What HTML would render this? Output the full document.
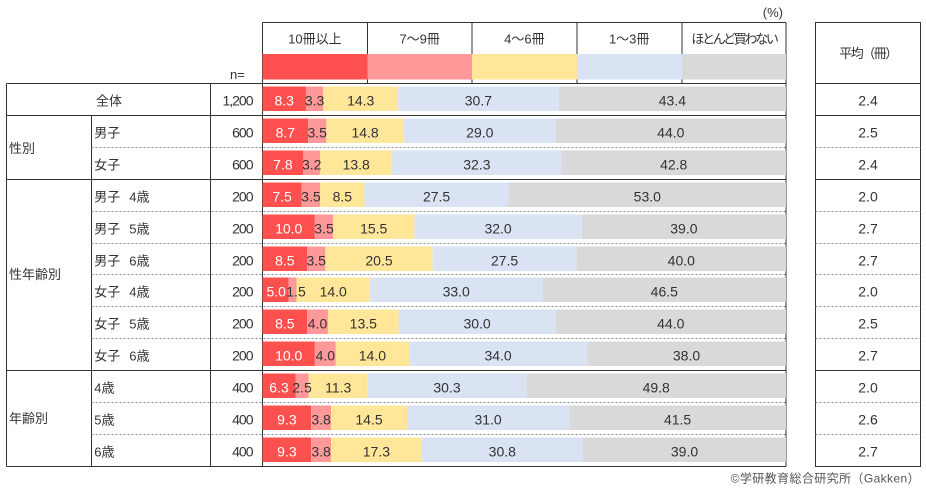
<!DOCTYPE html>
<html><head><meta charset="utf-8"><style>
html,body{margin:0;padding:0;background:#fff;}
svg{display:block;}
.j{font-family:"Liberation Sans","Noto Sans CJK JP",sans-serif;font-size:13px;fill:#333;}
.n{font-family:"Liberation Sans",sans-serif;font-size:14px;fill:#333;text-anchor:middle;}
.w{fill:#fff;}
.nn{font-family:"Liberation Sans",sans-serif;font-size:14px;fill:#333;text-anchor:end;letter-spacing:-1px;}
</style></head><body>
<svg width="926" height="490" viewBox="0 0 926 490" xmlns="http://www.w3.org/2000/svg">
<rect width="926" height="490" fill="#fff"/>
<g stroke="#333" stroke-width="1" fill="none">
<line x1="262.5" y1="22.5" x2="786" y2="22.5"/>
<line x1="262.5" y1="22.5" x2="262.5" y2="466.5"/>
<line x1="786" y1="22.5" x2="786" y2="466.5"/>
<line x1="367.5" y1="22.5" x2="367.5" y2="83.5"/>
<line x1="472" y1="22.5" x2="472" y2="83.5"/>
<line x1="577" y1="22.5" x2="577" y2="83.5"/>
<line x1="682" y1="22.5" x2="682" y2="83.5"/>
<line x1="6.5" y1="83.5" x2="6.5" y2="466.5"/>
<line x1="91.5" y1="115.5" x2="91.5" y2="466.5"/>
<line x1="210.5" y1="83.5" x2="210.5" y2="466.5"/>
<line x1="6.5" y1="83.5" x2="786" y2="83.5"/>
<line x1="6.5" y1="115.5" x2="786" y2="115.5"/>
<line x1="6.5" y1="179.5" x2="786" y2="179.5"/>
<line x1="6.5" y1="370.5" x2="786" y2="370.5"/>
<line x1="6.5" y1="466.5" x2="786" y2="466.5"/>
<rect x="815.5" y="22.5" width="105" height="444"/>
<line x1="815.5" y1="83.5" x2="920.5" y2="83.5"/>
<line x1="815.5" y1="115.5" x2="920.5" y2="115.5"/>
<line x1="815.5" y1="179.5" x2="920.5" y2="179.5"/>
<line x1="815.5" y1="370.5" x2="920.5" y2="370.5"/>
</g>
<g stroke="#888" stroke-width="1" stroke-dasharray="2,2" fill="none">
<path d="M91.5 147.5H786M91.5 211.5H786M91.5 243.5H786M91.5 274.5H786M91.5 306.5H786M91.5 338.5H786M91.5 402.5H786M91.5 434.5H786"/>
<path d="M815.5 147.5H920.5M815.5 211.5H920.5M815.5 243.5H920.5M815.5 274.5H920.5M815.5 306.5H920.5M815.5 338.5H920.5M815.5 402.5H920.5M815.5 434.5H920.5"/>
</g>
<!-- header swatches -->
<rect x="262.5" y="54" width="105" height="25.5" fill="#FF5050"/>
<rect x="367.5" y="54" width="104.5" height="25.5" fill="#FF9999"/>
<rect x="472" y="54" width="105" height="25.5" fill="#FFE699"/>
<rect x="577" y="54" width="105" height="25.5" fill="#DAE3F3"/>
<rect x="682" y="54" width="104" height="25.5" fill="#D9D9D9"/>
<text class="j" x="314.9" y="43.5" text-anchor="middle">10冊以上</text>
<text class="j" x="419.7" y="43.5" text-anchor="middle">7～9冊</text>
<text class="j" x="524.4" y="43.5" text-anchor="middle">4～6冊</text>
<text class="j" x="629.2" y="43.5" text-anchor="middle">1～3冊</text>
<text class="j" x="734" y="43.5" text-anchor="middle" style="letter-spacing:-2.3px">ほとんど買わない</text>
<text class="j" x="783" y="17" text-anchor="end">(%)</text>
<text class="j" x="868" y="58" text-anchor="middle" style="letter-spacing:-1.5px">平均（冊）</text>
<text class="j" x="230" y="79">n=</text>
<!-- bars -->
<g>
<rect x="262.5" y="86.5" width="43.45" height="24.5" fill="#FF5050"/><rect x="305.95" y="86.5" width="17.28" height="24.5" fill="#FF9999"/><rect x="323.23" y="86.5" width="74.86" height="24.5" fill="#FFE699"/><rect x="398.09" y="86.5" width="160.71" height="24.5" fill="#DAE3F3"/><rect x="558.8" y="86.5" width="227.2" height="24.5" fill="#D9D9D9"/>
<rect x="262.5" y="118.5" width="45.54" height="24.5" fill="#FF5050"/><rect x="308.04" y="118.5" width="18.32" height="24.5" fill="#FF9999"/><rect x="326.36" y="118.5" width="77.48" height="24.5" fill="#FFE699"/><rect x="403.84" y="118.5" width="151.82" height="24.5" fill="#DAE3F3"/><rect x="555.66" y="118.5" width="230.34" height="24.5" fill="#D9D9D9"/>
<rect x="262.5" y="150.5" width="40.83" height="24.5" fill="#FF5050"/><rect x="303.33" y="150.5" width="16.75" height="24.5" fill="#FF9999"/><rect x="320.08" y="150.5" width="72.24" height="24.5" fill="#FFE699"/><rect x="392.32" y="150.5" width="169.09" height="24.5" fill="#DAE3F3"/><rect x="561.41" y="150.5" width="224.59" height="24.5" fill="#D9D9D9"/>
<rect x="262.5" y="182.5" width="39.26" height="24.5" fill="#FF5050"/><rect x="301.76" y="182.5" width="18.32" height="24.5" fill="#FF9999"/><rect x="320.08" y="182.5" width="44.5" height="24.5" fill="#FFE699"/><rect x="364.58" y="182.5" width="143.96" height="24.5" fill="#DAE3F3"/><rect x="508.54" y="182.5" width="277.46" height="24.5" fill="#D9D9D9"/>
<rect x="262.5" y="214.5" width="52.35" height="24.5" fill="#FF5050"/><rect x="314.85" y="214.5" width="18.32" height="24.5" fill="#FF9999"/><rect x="333.17" y="214.5" width="81.14" height="24.5" fill="#FFE699"/><rect x="414.31" y="214.5" width="167.52" height="24.5" fill="#DAE3F3"/><rect x="581.83" y="214.5" width="204.17" height="24.5" fill="#D9D9D9"/>
<rect x="262.5" y="246.5" width="44.5" height="24.5" fill="#FF5050"/><rect x="307" y="246.5" width="18.32" height="24.5" fill="#FF9999"/><rect x="325.32" y="246.5" width="107.32" height="24.5" fill="#FFE699"/><rect x="432.64" y="246.5" width="143.96" height="24.5" fill="#DAE3F3"/><rect x="576.6" y="246.5" width="209.4" height="24.5" fill="#D9D9D9"/>
<rect x="262.5" y="277.5" width="26.18" height="24.5" fill="#FF5050"/><rect x="288.68" y="277.5" width="7.85" height="24.5" fill="#FF9999"/><rect x="296.53" y="277.5" width="73.29" height="24.5" fill="#FFE699"/><rect x="369.82" y="277.5" width="172.76" height="24.5" fill="#DAE3F3"/><rect x="542.58" y="277.5" width="243.42" height="24.5" fill="#D9D9D9"/>
<rect x="262.5" y="309.5" width="44.5" height="24.5" fill="#FF5050"/><rect x="307" y="309.5" width="20.94" height="24.5" fill="#FF9999"/><rect x="327.94" y="309.5" width="70.67" height="24.5" fill="#FFE699"/><rect x="398.61" y="309.5" width="157.05" height="24.5" fill="#DAE3F3"/><rect x="555.66" y="309.5" width="230.34" height="24.5" fill="#D9D9D9"/>
<rect x="262.5" y="341.5" width="52.35" height="24.5" fill="#FF5050"/><rect x="314.85" y="341.5" width="20.94" height="24.5" fill="#FF9999"/><rect x="335.79" y="341.5" width="73.29" height="24.5" fill="#FFE699"/><rect x="409.08" y="341.5" width="177.99" height="24.5" fill="#DAE3F3"/><rect x="587.07" y="341.5" width="198.93" height="24.5" fill="#D9D9D9"/>
<rect x="262.5" y="373.5" width="32.98" height="24.5" fill="#FF5050"/><rect x="295.48" y="373.5" width="13.09" height="24.5" fill="#FF9999"/><rect x="308.57" y="373.5" width="59.16" height="24.5" fill="#FFE699"/><rect x="367.73" y="373.5" width="158.62" height="24.5" fill="#DAE3F3"/><rect x="526.35" y="373.5" width="259.65" height="24.5" fill="#D9D9D9"/>
<rect x="262.5" y="405.5" width="48.69" height="24.5" fill="#FF5050"/><rect x="311.19" y="405.5" width="19.89" height="24.5" fill="#FF9999"/><rect x="331.08" y="405.5" width="75.91" height="24.5" fill="#FFE699"/><rect x="406.99" y="405.5" width="162.29" height="24.5" fill="#DAE3F3"/><rect x="569.28" y="405.5" width="216.72" height="24.5" fill="#D9D9D9"/>
<rect x="262.5" y="437.5" width="48.69" height="24.5" fill="#FF5050"/><rect x="311.19" y="437.5" width="19.89" height="24.5" fill="#FF9999"/><rect x="331.08" y="437.5" width="90.57" height="24.5" fill="#FFE699"/><rect x="421.65" y="437.5" width="161.24" height="24.5" fill="#DAE3F3"/><rect x="582.89" y="437.5" width="203.11" height="24.5" fill="#D9D9D9"/>
</g>
<!-- bar labels -->
<g>
<text class="n w" x="284.2" y="105.3">8.3</text><text class="n" x="314.6" y="105.3">3.3</text><text class="n" x="360.7" y="105.3">14.3</text><text class="n" x="478.4" y="105.3">30.7</text><text class="n" x="672.4" y="105.3">43.4</text>
<text class="n w" x="285.3" y="137.3">8.7</text><text class="n" x="317.2" y="137.3">3.5</text><text class="n" x="365.1" y="137.3">14.8</text><text class="n" x="479.8" y="137.3">29.0</text><text class="n" x="670.8" y="137.3">44.0</text>
<text class="n w" x="282.9" y="169.3">7.8</text><text class="n" x="311.7" y="169.3">3.2</text><text class="n" x="356.2" y="169.3">13.8</text><text class="n" x="476.9" y="169.3">32.3</text><text class="n" x="673.7" y="169.3">42.8</text>
<text class="n w" x="282.1" y="201.3">7.5</text><text class="n" x="310.9" y="201.3">3.5</text><text class="n" x="342.3" y="201.3">8.5</text><text class="n" x="436.6" y="201.3">27.5</text><text class="n" x="647.3" y="201.3">53.0</text>
<text class="n w" x="288.7" y="233.3">10.0</text><text class="n" x="324" y="233.3">3.5</text><text class="n" x="373.7" y="233.3">15.5</text><text class="n" x="498.1" y="233.3">32.0</text><text class="n" x="683.9" y="233.3">39.0</text>
<text class="n w" x="284.8" y="265.3">8.5</text><text class="n" x="316.2" y="265.3">3.5</text><text class="n" x="379" y="265.3">20.5</text><text class="n" x="504.6" y="265.3">27.5</text><text class="n" x="681.3" y="265.3">40.0</text>
<text class="n w" x="276.2" y="296.3">5.0</text><text class="n" x="296" y="296.3">1.5</text><text class="n" x="333.2" y="296.3">14.0</text><text class="n" x="456.2" y="296.3">33.0</text><text class="n" x="664.3" y="296.3">46.5</text>
<text class="n w" x="284.8" y="328.3">8.5</text><text class="n" x="317.5" y="328.3">4.0</text><text class="n" x="363.3" y="328.3">13.5</text><text class="n" x="477.1" y="328.3">30.0</text><text class="n" x="670.8" y="328.3">44.0</text>
<text class="n w" x="288.7" y="360.3">10.0</text><text class="n" x="325.3" y="360.3">4.0</text><text class="n" x="372.4" y="360.3">14.0</text><text class="n" x="498.1" y="360.3">34.0</text><text class="n" x="686.5" y="360.3">38.0</text>
<text class="n w" x="279" y="392.3">6.3</text><text class="n" x="302" y="392.3">2.5</text><text class="n" x="338.2" y="392.3">11.3</text><text class="n" x="447" y="392.3">30.3</text><text class="n" x="656.2" y="392.3">49.8</text>
<text class="n w" x="286.9" y="424.3">9.3</text><text class="n" x="321.1" y="424.3">3.8</text><text class="n" x="369" y="424.3">14.5</text><text class="n" x="488.1" y="424.3">31.0</text><text class="n" x="677.6" y="424.3">41.5</text>
<text class="n w" x="286.9" y="456.3">9.3</text><text class="n" x="321.1" y="456.3">3.8</text><text class="n" x="376.4" y="456.3">17.3</text><text class="n" x="502.3" y="456.3">30.8</text><text class="n" x="684.5" y="456.3">39.0</text>
</g>
<!-- left labels -->
<text class="j" x="109" y="105.3" text-anchor="middle">全体</text>
<text class="j" x="9" y="153">性別</text>
<text class="j" x="9" y="279">性年齢別</text>
<text class="j" x="9" y="423">年齢別</text>
<text class="j" x="94.3" y="137.3">男子</text>
<text class="j" x="94.3" y="169.3">女子</text>
<text class="j" x="94.3" y="201.3">男子</text><text class="j" x="129.3" y="201.3">4歳</text>
<text class="j" x="94.3" y="233.3">男子</text><text class="j" x="129.3" y="233.3">5歳</text>
<text class="j" x="94.3" y="265.3">男子</text><text class="j" x="129.3" y="265.3">6歳</text>
<text class="j" x="94.3" y="296.3">女子</text><text class="j" x="129.3" y="296.3">4歳</text>
<text class="j" x="94.3" y="328.3">女子</text><text class="j" x="129.3" y="328.3">5歳</text>
<text class="j" x="94.3" y="360.3">女子</text><text class="j" x="129.3" y="360.3">6歳</text>
<text class="j" x="94.3" y="392.3">4歳</text>
<text class="j" x="94.3" y="424.3">5歳</text>
<text class="j" x="94.3" y="456.3">6歳</text>
<!-- n -->
<text class="nn" x="252.5" y="105.3">1,200</text>
<text class="nn" x="252.5" y="137.3">600</text>
<text class="nn" x="252.5" y="169.3">600</text>
<text class="nn" x="252.5" y="201.3">200</text>
<text class="nn" x="252.5" y="233.3">200</text>
<text class="nn" x="252.5" y="265.3">200</text>
<text class="nn" x="252.5" y="296.3">200</text>
<text class="nn" x="252.5" y="328.3">200</text>
<text class="nn" x="252.5" y="360.3">200</text>
<text class="nn" x="252.5" y="392.3">400</text>
<text class="nn" x="252.5" y="424.3">400</text>
<text class="nn" x="252.5" y="456.3">400</text>
<!-- averages -->
<text class="n" x="868" y="105.3">2.4</text>
<text class="n" x="868" y="137.3">2.5</text>
<text class="n" x="868" y="169.3">2.4</text>
<text class="n" x="868" y="201.3">2.0</text>
<text class="n" x="868" y="233.3">2.7</text>
<text class="n" x="868" y="265.3">2.7</text>
<text class="n" x="868" y="296.3">2.0</text>
<text class="n" x="868" y="328.3">2.5</text>
<text class="n" x="868" y="360.3">2.7</text>
<text class="n" x="868" y="392.3">2.0</text>
<text class="n" x="868" y="424.3">2.6</text>
<text class="n" x="868" y="456.3">2.7</text>
<!-- footer -->
<text x="920" y="482.5" text-anchor="end" style="font-family:'Liberation Sans','Noto Sans CJK JP',sans-serif;font-size:12px;fill:#555;letter-spacing:0.4px">©学研教育総合研究所（Gakken）</text>
</svg>
</body></html>
